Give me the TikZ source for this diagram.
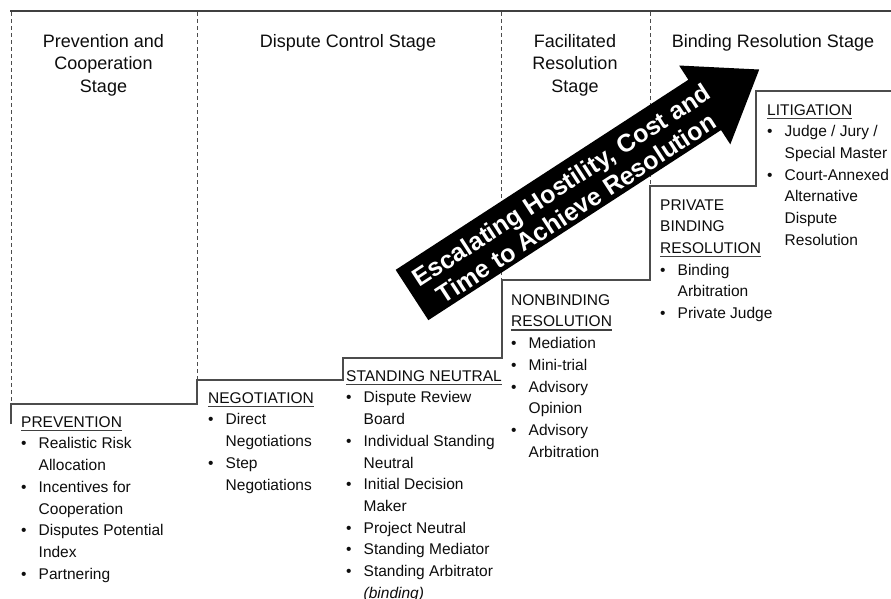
\documentclass[tikz,border=0pt]{standalone}
\usepackage{fontspec}
\setmainfont{Liberation Sans}
\newsavebox{\ulbox}
\newcommand{\ulin}[1]{\sbox{\ulbox}{#1}\rlap{\color{black!75}\rule[-3.6pt]{\wd\ulbox}{1.1pt}}\usebox{\ulbox}}
\newcommand{\bit}{\makebox[17.5pt][l]{\textbullet}}
\newcommand{\ind}{\hspace*{17.5pt}}
\begin{document}
\begin{tikzpicture}[x=1pt,y=-1pt,
  hdr/.style={align=center, inner sep=0pt, anchor=north, font=\fontsize{18}{22.5}\selectfont, text=black!95},
  blk/.style={align=left, inner sep=0pt, anchor=north west, font=\fontsize{15.5}{21.7}\selectfont, text=black!95},
  topline/.style={draw=black!75, line width=1.5pt},
  dashline/.style={draw=black!70, line width=0.9pt, dash pattern=on 4pt off 3pt},
  stairline/.style={draw=black!70, line width=1.4pt},
  bigarrow/.style={fill=black, draw=none},
  arrowtext/.style={align=center, inner sep=0pt, text=white, font=\fontsize{25}{27.5}\selectfont\bfseries}]
\useasboundingbox (0,0) rectangle (891,598);
\fill[white] (0,0) rectangle (891,598);

% frame lines
\draw[topline] (10,11) -- (891,11);
\draw[dashline] (11,12) -- (11,404);
\draw[dashline] (197,12) -- (197,380);
\draw[dashline] (501,12) -- (501,280);
\draw[dashline] (650,12) -- (650,186);

% staircase
\draw[stairline] (11,424) -- (11,404) -- (197,404) -- (197,380) -- (343,380) -- (343,358)
  -- (502,358) -- (502,280) -- (650,280) -- (650,186) -- (756,186) -- (756,91) -- (891,91);

% stage headers
\node[hdr] (h1) at (103.5,31.25) {\strut Prevention and\\Cooperation\\Stage};
\node[hdr] (h2) at (348,31.25) {\strut Dispute Control Stage};
\node[hdr] (h3) at (575,31.25) {\strut Facilitated\\Resolution\\Stage};
\node[hdr] (h4) at (773,31.25) {\strut Binding Resolution Stage};

% arrow
\begin{scope}[shift={(412,295)}, rotate=33]
  \fill[bigarrow] (0,-30) -- (349,-30) -- (349,-47) -- (414,0) -- (349,47) -- (349,30) -- (0,30) -- cycle;
  \node[arrowtext, transform shape] (at) at (185,3) {Escalating Hostility, Cost and\\Time to Achieve Resolution};
\end{scope}

% blocks
\node[blk] (prev) at (21,411.8) {\strut\ulin{PREVENTION}\\
\bit Realistic Risk\\ \ind Allocation\\
\bit Incentives for\\ \ind Cooperation\\
\bit Disputes Potential\\ \ind Index\\
\bit Partnering};

\node[blk] (nego) at (208,387.8) {\strut\ulin{NEGOTIATION}\\
\bit Direct\\ \ind Negotiations\\
\bit Step\\ \ind Negotiations};

\node[blk] (stand) at (346,365.8) {\strut\ulin{STANDING NEUTRAL}\\
\bit Dispute Review\\ \ind Board\\
\bit Individual Standing\\ \ind Neutral\\
\bit Initial Decision\\ \ind Maker\\
\bit Project Neutral\\
\bit Standing Mediator\\
\bit Standing Arbitrator\\ \ind \textit{(binding)}};

\node[blk] (nonb) at (511,289.8) {\strut NONBINDING\\ \ulin{RESOLUTION}\\
\bit Mediation\\
\bit Mini-trial\\
\bit Advisory\\ \ind Opinion\\
\bit Advisory\\ \ind Arbitration};

\node[blk] (priv) at (660,194.8) {\strut PRIVATE\\ BINDING\\ \ulin{RESOLUTION}\\
\bit Binding\\ \ind Arbitration\\
\bit Private Judge};

\node[blk] (lit) at (767,99.8) {\strut\ulin{LITIGATION}\\
\bit Judge / Jury /\\ \ind Special Master\\
\bit Court-Annexed\\ \ind Alternative\\ \ind Dispute\\ \ind Resolution};
\end{tikzpicture}
\end{document}
